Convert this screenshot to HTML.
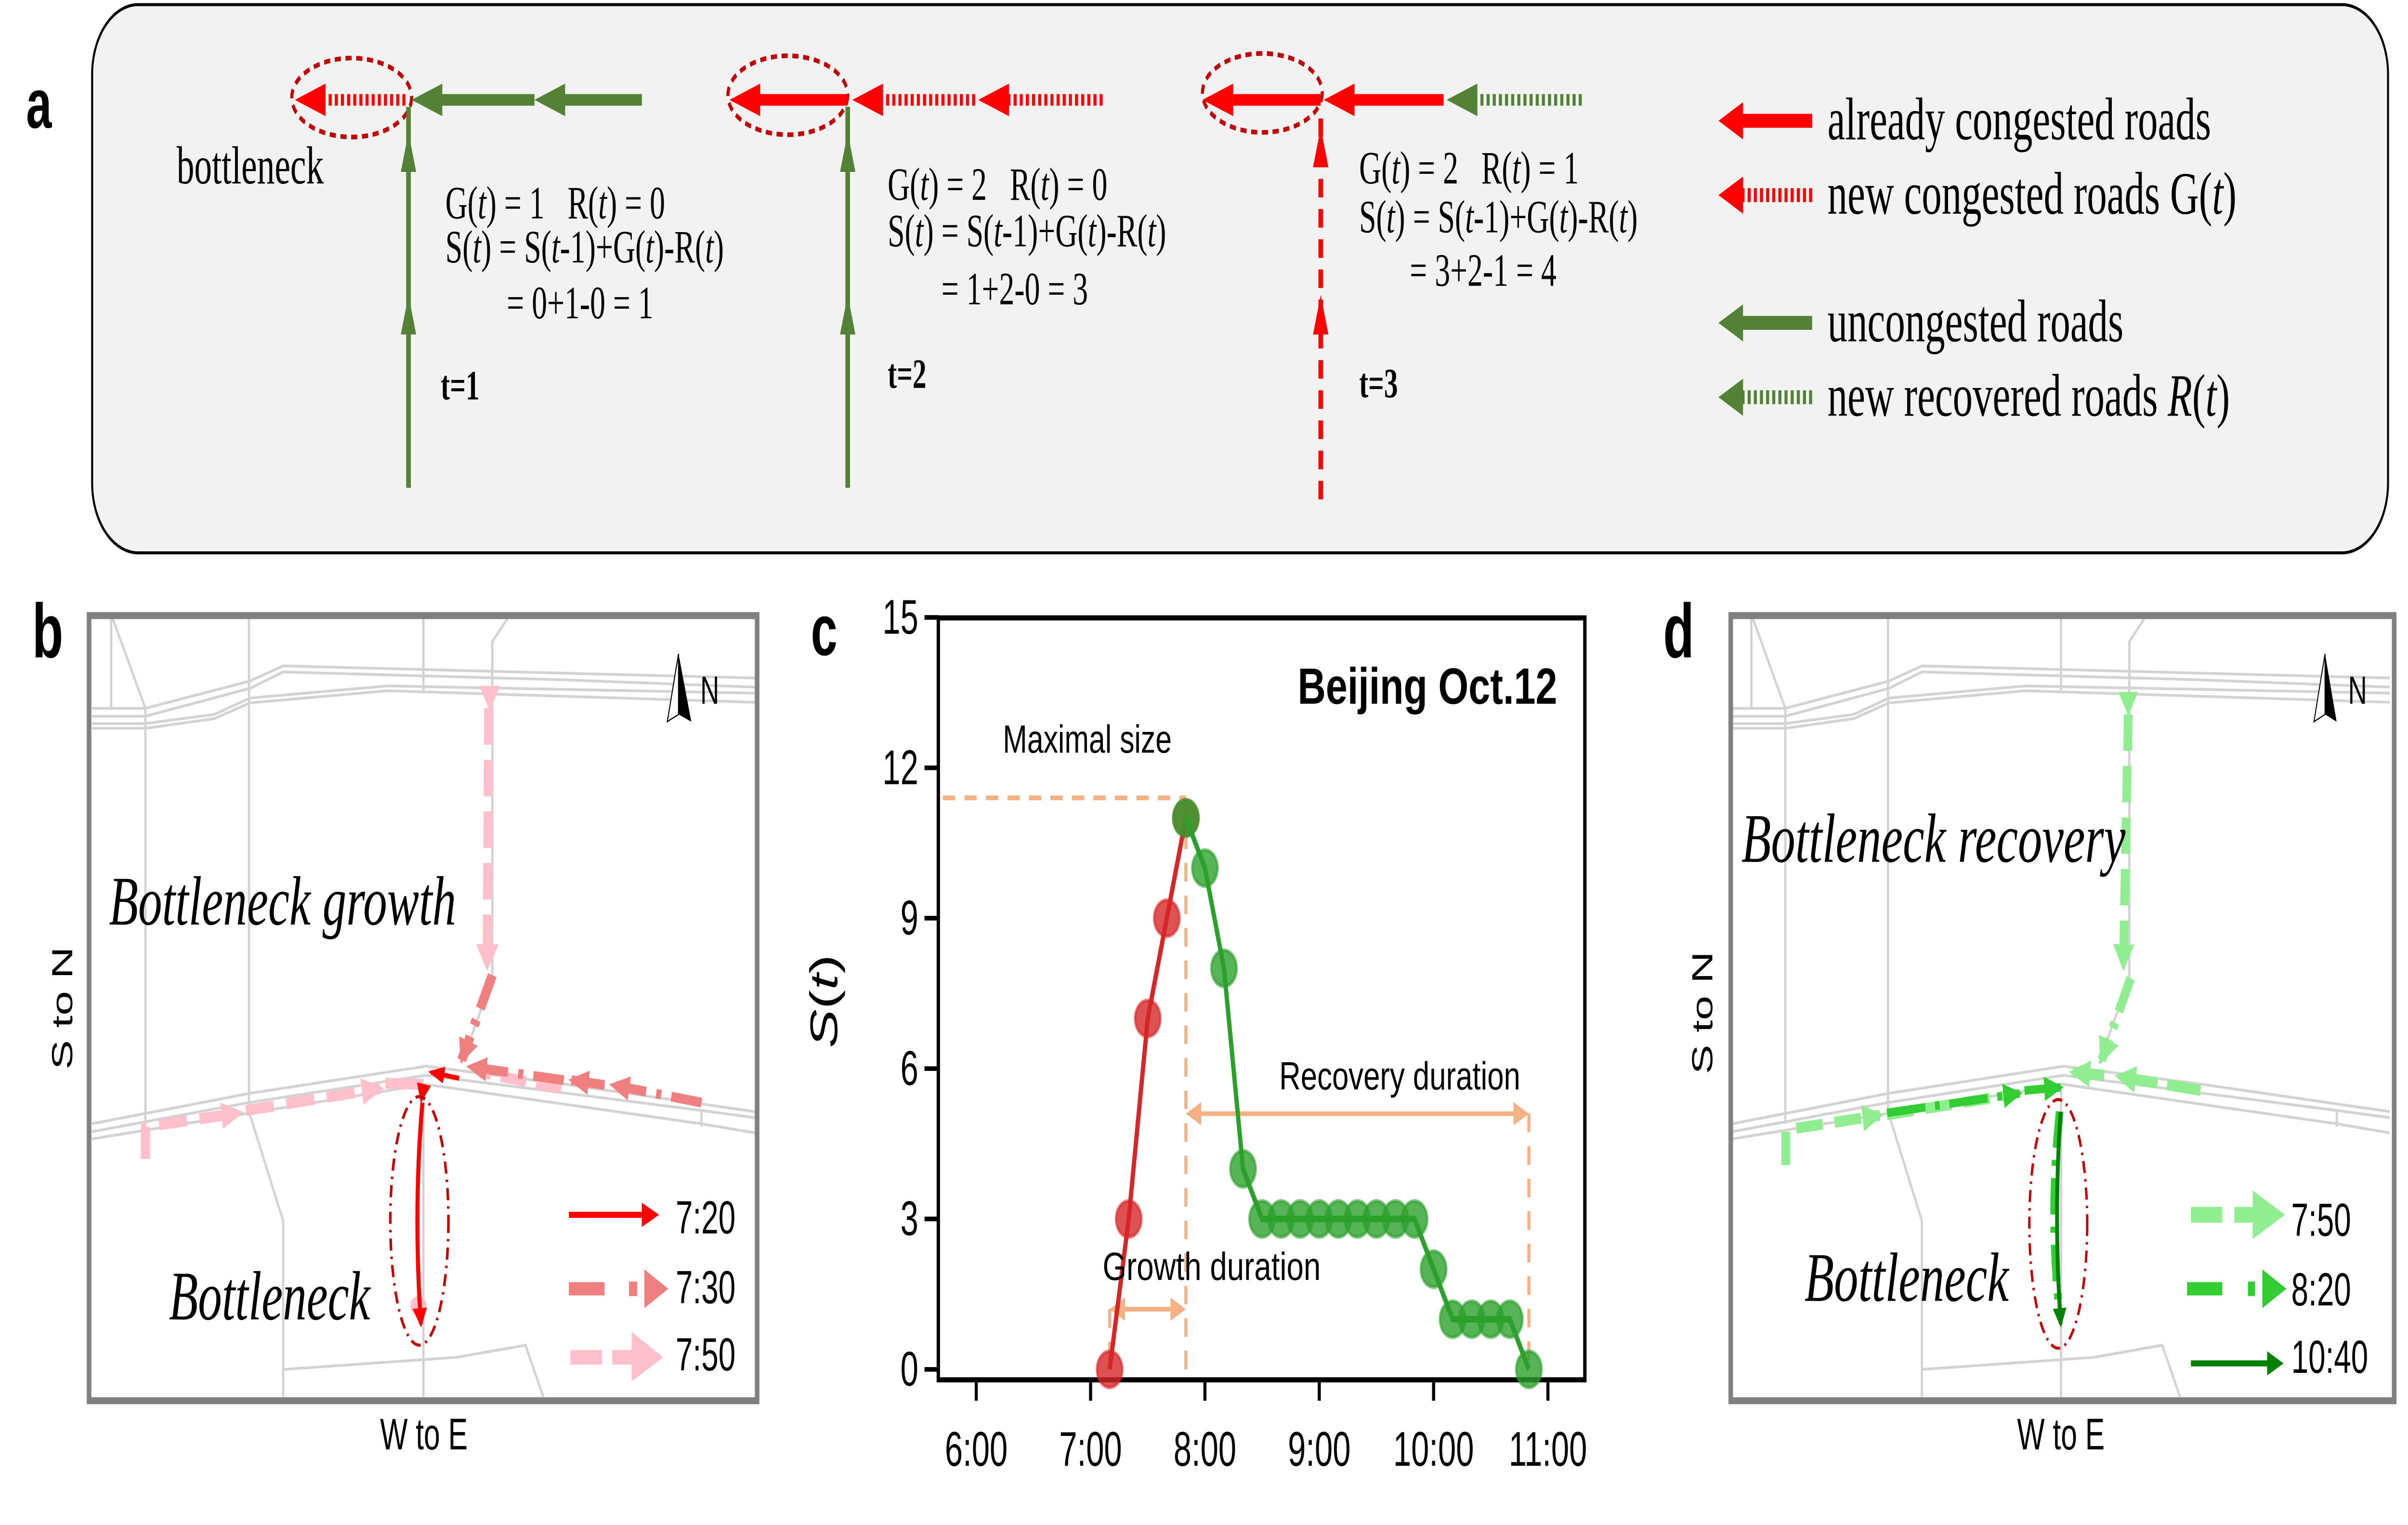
<!DOCTYPE html>
<html><head><meta charset="utf-8"><style>
html,body{margin:0;padding:0;background:#fff;width:100%;height:100%;overflow:hidden}
svg{display:block;width:100vw;height:100vh}
text{font-family:"Liberation Sans","DejaVu Sans",sans-serif}
.serif{font-family:"Liberation Serif",serif}
</style></head><body>
<svg id="root" viewBox="0 0 1568 656.5" preserveAspectRatio="none">
<defs>
<marker id="mPink" markerUnits="userSpaceOnUse" markerWidth="60" markerHeight="60" refX="36" refY="22" orient="auto"><path d="M0,0 L44,22 L0,44 z" fill="#ffc0cb"/></marker>
<marker id="mSalmon" markerUnits="userSpaceOnUse" markerWidth="60" markerHeight="60" refX="34" refY="20" orient="auto"><path d="M0,0 L40,20 L0,40 z" fill="#f08080"/></marker>
<marker id="mRed" markerUnits="userSpaceOnUse" markerWidth="50" markerHeight="50" refX="26" refY="14" orient="auto"><path d="M0,0 L32,14 L0,28 z" fill="#ff0000"/></marker>
<marker id="mLg" markerUnits="userSpaceOnUse" markerWidth="60" markerHeight="60" refX="36" refY="22" orient="auto"><path d="M0,0 L44,22 L0,44 z" fill="#90ee90"/></marker>
<marker id="mMg" markerUnits="userSpaceOnUse" markerWidth="60" markerHeight="60" refX="34" refY="20" orient="auto"><path d="M0,0 L40,20 L0,40 z" fill="#32cd32"/></marker>
<marker id="mDg" markerUnits="userSpaceOnUse" markerWidth="50" markerHeight="50" refX="26" refY="14" orient="auto"><path d="M0,0 L32,14 L0,28 z" fill="#008000"/></marker>
<g id="roads" fill="none" stroke="#d3d3d3" stroke-width="4.5">
<polyline points="180,215 285,215 490,170 555,145 1105,157 1480,165"/>
<polyline points="180,228 285,228 490,182 555,155 1105,168 1480,180"/>
<polyline points="180,240 285,240 420,225 490,198 760,178 1480,190"/>
<polyline points="180,248 285,248 420,232 490,206 760,186 1480,205"/>
<polyline points="218,60 218,215"/><polyline points="218,60 285,215"/>
<polyline points="285,215 285,900"/><polyline points="488,60 488,880"/>
<polyline points="830,60 830,185"/><polyline points="1000,60 965,105 965,660 905,800"/>
<polyline points="180,900 488,850 835,805 1110,835 1480,880"/>
<polyline points="180,913 488,865 835,820 1375,878 1480,890"/>
<polyline points="180,925 835,835 1375,900 1480,915"/>
<polyline points="1375,878 1375,905"/>
<polyline points="488,880 555,1060 555,1350"/>
<polyline points="555,1305 895,1285 1030,1265 1065,1350"/>
<polyline points="830,835 830,1350"/>
</g>
</defs>

<!-- PANEL A -->
<g>
<rect x="60" y="2" width="1495" height="236" rx="30" ry="30" fill="#f2f2f2" stroke="#000" stroke-width="1.3"/>
<text x="17" y="55" font-size="30" font-weight="bold">a</text>
<g>
<ellipse cx="229" cy="42" rx="39" ry="17" fill="none" stroke="#c00000" stroke-width="2" stroke-dasharray="4,3"/>
<line x1="210" y1="43" x2="266" y2="43" stroke="#ff0000" stroke-width="5" stroke-dasharray="2,2"/>
<polygon points="192,43 212,36 212,50" fill="#ff0000"/>
<line x1="286" y1="43" x2="348" y2="43" stroke="#538135" stroke-width="5"/>
<polygon points="268,43 288,36 288,50" fill="#538135"/>
<line x1="366" y1="43" x2="418" y2="43" stroke="#538135" stroke-width="5"/>
<polygon points="348,43 368,36 368,50" fill="#538135"/>
<line x1="266" y1="210" x2="266" y2="46" stroke="#538135" stroke-width="3"/>
<polygon points="266,57 261,74 271,74" fill="#538135"/>
<polygon points="266,127 261,144 271,144" fill="#538135"/>
<text class="serif" x="115" y="79" font-size="23">bottleneck</text>
<text class="serif" x="290" y="94" font-size="20">G(<tspan font-style="italic">t</tspan>) = 1 &#160;&#160;R(<tspan font-style="italic">t</tspan>) = 0</text>
<text class="serif" x="290" y="113" font-size="20">S(<tspan font-style="italic">t</tspan>) = S(<tspan font-style="italic">t</tspan>-1)+G(<tspan font-style="italic">t</tspan>)-R(<tspan font-style="italic">t</tspan>)</text>
<text class="serif" x="330" y="137" font-size="20">= 0+1-0 = 1</text>
<text class="serif" x="287" y="172" font-size="18" font-weight="bold">t=1</text>
</g>
<g>
<ellipse cx="513" cy="41" rx="39" ry="17" fill="none" stroke="#c00000" stroke-width="2" stroke-dasharray="4,3"/>
<line x1="494" y1="43" x2="552" y2="43" stroke="#ff0000" stroke-width="5"/>
<polygon points="475,43 495,36 495,50" fill="#ff0000"/>
<line x1="573" y1="43" x2="635" y2="43" stroke="#ff0000" stroke-width="5" stroke-dasharray="2,2"/>
<polygon points="555,43 575,36 575,50" fill="#ff0000"/>
<line x1="656" y1="43" x2="720" y2="43" stroke="#ff0000" stroke-width="5" stroke-dasharray="2,2"/>
<polygon points="637,43 657,36 657,50" fill="#ff0000"/>
<line x1="552" y1="210" x2="552" y2="46" stroke="#538135" stroke-width="3"/>
<polygon points="552,57 547,74 557,74" fill="#538135"/>
<polygon points="552,127 547,144 557,144" fill="#538135"/>
<text class="serif" x="578" y="86" font-size="20">G(<tspan font-style="italic">t</tspan>) = 2 &#160;&#160;R(<tspan font-style="italic">t</tspan>) = 0</text>
<text class="serif" x="578" y="106" font-size="20">S(<tspan font-style="italic">t</tspan>) = S(<tspan font-style="italic">t</tspan>-1)+G(<tspan font-style="italic">t</tspan>)-R(<tspan font-style="italic">t</tspan>)</text>
<text class="serif" x="613" y="131" font-size="20">= 1+2-0 = 3</text>
<text class="serif" x="578" y="167" font-size="18" font-weight="bold">t=2</text>
</g>
<g>
<ellipse cx="822" cy="40" rx="39" ry="17" fill="none" stroke="#c00000" stroke-width="2" stroke-dasharray="4,3"/>
<line x1="803" y1="43" x2="860" y2="43" stroke="#ff0000" stroke-width="5"/>
<polygon points="783,43 803,36 803,50" fill="#ff0000"/>
<line x1="881" y1="43" x2="940" y2="43" stroke="#ff0000" stroke-width="5"/>
<polygon points="862,43 882,36 882,50" fill="#ff0000"/>
<line x1="960" y1="43" x2="1030" y2="43" stroke="#538135" stroke-width="5" stroke-dasharray="2,2"/>
<polygon points="942,43 962,36 962,50" fill="#538135"/>
<line x1="860" y1="215" x2="860" y2="48" stroke="#ff0000" stroke-width="3" stroke-dasharray="8,5"/>
<polygon points="860,55 855,72 865,72" fill="#ff0000"/>
<polygon points="860,127 855,144 865,144" fill="#ff0000"/>
<text class="serif" x="885" y="79" font-size="20">G(<tspan font-style="italic">t</tspan>) = 2 &#160;&#160;R(<tspan font-style="italic">t</tspan>) = 1</text>
<text class="serif" x="885" y="100" font-size="20">S(<tspan font-style="italic">t</tspan>) = S(<tspan font-style="italic">t</tspan>-1)+G(<tspan font-style="italic">t</tspan>)-R(<tspan font-style="italic">t</tspan>)</text>
<text class="serif" x="918" y="123" font-size="20">= 3+2-1 = 4</text>
<text class="serif" x="885" y="171" font-size="18" font-weight="bold">t=3</text>
</g>
<g>
<line x1="1134" y1="52" x2="1180" y2="52" stroke="#ff0000" stroke-width="6"/><polygon points="1119,52 1135,44 1135,60" fill="#ff0000"/>
<text class="serif" x="1190" y="60" font-size="26">already congested roads</text>
<line x1="1134" y1="84" x2="1180" y2="84" stroke="#ff0000" stroke-width="6" stroke-dasharray="2,2"/><polygon points="1119,84 1135,76 1135,92" fill="#ff0000"/>
<text class="serif" x="1190" y="92" font-size="26">new congested roads G(<tspan font-style="italic">t</tspan>)</text>
<line x1="1134" y1="139" x2="1180" y2="139" stroke="#538135" stroke-width="6"/><polygon points="1119,139 1135,131 1135,147" fill="#538135"/>
<text class="serif" x="1190" y="147" font-size="26">uncongested roads</text>
<line x1="1134" y1="171" x2="1180" y2="171" stroke="#538135" stroke-width="6" stroke-dasharray="2,2"/><polygon points="1119,171 1135,163 1135,179" fill="#538135"/>
<text class="serif" x="1190" y="179" font-size="26">new recovered roads <tspan font-style="italic">R</tspan>(<tspan font-style="italic">t</tspan>)</text>
</g>
</g>

<!-- PANEL B -->
<g>
<text x="21" y="283" font-size="33" font-weight="bold">b</text>
<g transform="translate(0,248.8) scale(0.3322,0.2611)">
<use href="#roads"/>
<path d="M1100,842 L940,815" fill="none" stroke="#ffc0cb" stroke-width="18" stroke-dasharray="50,20"/>
<path d="M958,215 L955,640" fill="none" stroke="#ffc0cb" stroke-width="18" stroke-dasharray="60,25" marker-end="url(#mPink)"/>
<polygon points="940,178 980,178 960,220" fill="#ffc0cb"/>
<path d="M965,655 L905,795" fill="none" stroke="#f08080" stroke-width="18" stroke-dasharray="60,20,10,20" marker-end="url(#mSalmon)"/>
<path d="M1375,865 L1200,836" fill="none" stroke="#f08080" stroke-width="16" stroke-dasharray="60,20,10,20" marker-end="url(#mSalmon)"/>
<path d="M1185,836 L1120,828" fill="none" stroke="#f08080" stroke-width="16" marker-end="url(#mSalmon)"/>
<path d="M1105,828 L920,806" fill="none" stroke="#f08080" stroke-width="16" stroke-dasharray="60,20,10,20" marker-end="url(#mSalmon)"/>
<path d="M285,958 L285,905 L470,882" fill="none" stroke="#ffc0cb" stroke-width="18" stroke-dasharray="55,25" stroke-linejoin="round" marker-end="url(#mPink)"/>
<path d="M482,878 L745,842" fill="none" stroke="#ffc0cb" stroke-width="18" stroke-dasharray="55,25" marker-end="url(#mPink)"/>
<path d="M755,833 L830,835" fill="none" stroke="#ffc0cb" stroke-width="18"/>
<circle cx="820" cy="1200" r="16" fill="#ffc0cb"/>
<path d="M900,825 L845,815" fill="none" stroke="#ff0000" stroke-width="8" marker-end="url(#mRed)"/>
<path d="M828,850 L826,860" fill="none" stroke="#ff0000" stroke-width="8" marker-end="url(#mRed)"/>
<path d="M828,865 Q810,1040 825,1230" fill="none" stroke="#ff0000" stroke-width="8" marker-end="url(#mRed)"/>
<ellipse cx="822" cy="1060" rx="57" ry="205" fill="none" stroke="#c00000" stroke-width="5" stroke-dasharray="20,10,4,10"/>
<polygon points="1330,125 1308,237 1330,225" fill="#fff" stroke="#000" stroke-width="2"/>
<polygon points="1330,125 1355,237 1330,225" fill="#000"/>
<line x1="1115" y1="1050" x2="1260" y2="1050" stroke="#ff0000" stroke-width="10"/>
<polygon points="1258,1030 1292,1050 1258,1070" fill="#ff0000"/>
<line x1="1115" y1="1172" x2="1185" y2="1172" stroke="#f08080" stroke-width="22"/>
<rect x="1233" y="1160" width="16" height="24" fill="#f08080"/>
<polygon points="1263,1140 1310,1172 1263,1204" fill="#f08080"/>
<line x1="1118" y1="1285" x2="1180" y2="1285" stroke="#ffc0cb" stroke-width="24"/>
<line x1="1200" y1="1285" x2="1242" y2="1285" stroke="#ffc0cb" stroke-width="24"/>
<polygon points="1238,1243 1300,1285 1238,1325" fill="#ffc0cb"/>
</g>
<rect x="58" y="265" width="435" height="338" fill="none" stroke="#808080" stroke-width="3"/>
<text x="456" y="303" font-size="17">N</text>
<text class="serif" x="71" y="398" font-size="30" font-style="italic" textLength="226" lengthAdjust="spacingAndGlyphs">Bottleneck growth</text>
<text class="serif" x="110" y="568" font-size="30" font-style="italic" textLength="131" lengthAdjust="spacingAndGlyphs">Bottleneck</text>
<text x="440" y="531" font-size="20">7:20</text>
<text x="440" y="561" font-size="20">7:30</text>
<text x="440" y="590" font-size="20">7:50</text>
<text x="276" y="624" font-size="19" text-anchor="middle">W to E</text>
<text transform="translate(47,434) rotate(-90)" font-size="19" text-anchor="middle">S to N</text>
</g>

<!-- PANEL C -->
<g>
<text x="528" y="282" font-size="31" font-weight="bold">c</text>
<g id="chart-c"></g>
<text x="1014" y="303" font-size="22" font-weight="bold" text-anchor="end" textLength="169" lengthAdjust="spacingAndGlyphs">Beijing Oct.12</text>
<text x="653" y="324" font-size="17" textLength="110" lengthAdjust="spacingAndGlyphs">Maximal size</text>
<text x="833" y="469" font-size="17" textLength="157" lengthAdjust="spacingAndGlyphs">Recovery duration</text>
<text x="718" y="551" font-size="17" textLength="142" lengthAdjust="spacingAndGlyphs">Growth duration</text>
<text transform="translate(545,431) rotate(-90)" font-family="DejaVu Sans" font-size="25" text-anchor="middle"><tspan font-style="italic">S</tspan>(<tspan font-style="italic">t</tspan>)</text>
</g>

<!-- PANEL D -->
<g>
<text x="1083" y="283" font-size="33" font-weight="bold">d</text>
<g transform="translate(1068.6,248.8) scale(0.3295,0.2611)"><use href="#roads"/></g>
<g transform="translate(1078,248.8) scale(0.3141,0.2611)">
<path d="M980,225 L970,640" fill="none" stroke="#90ee90" stroke-width="18" stroke-dasharray="60,25" marker-end="url(#mLg)"/>
<polygon points="960,188 1000,188 980,228" fill="#90ee90"/>
<path d="M985,660 L925,795" fill="none" stroke="#90ee90" stroke-width="18" stroke-dasharray="60,20,10,20" marker-end="url(#mLg)"/>
<path d="M1130,845 L960,822" fill="none" stroke="#90ee90" stroke-width="18" stroke-dasharray="70,20" marker-end="url(#mLg)"/>
<path d="M930,820 L865,815" fill="none" stroke="#90ee90" stroke-width="18" marker-end="url(#mLg)"/>
<path d="M270,968 L270,910 L465,886" fill="none" stroke="#90ee90" stroke-width="18" stroke-dasharray="55,25" stroke-linejoin="round" marker-end="url(#mLg)"/>
<path d="M480,885 L740,852" fill="none" stroke="#90ee90" stroke-width="18" stroke-dasharray="55,25"/>
<path d="M480,882 L755,850" fill="none" stroke="#32cd32" stroke-width="14" stroke-dasharray="80,20,10,20" marker-end="url(#mMg)"/>
<path d="M765,845 L840,840" fill="none" stroke="#32cd32" stroke-width="14" marker-end="url(#mMg)"/>
<path d="M838,880 Q815,1050 838,1215" fill="none" stroke="#32cd32" stroke-width="16" stroke-dasharray="60,20,10,20"/>
<path d="M840,880 Q825,1050 840,1230" fill="none" stroke="#008000" stroke-width="8" marker-end="url(#mDg)"/>
<ellipse cx="835" cy="1065" rx="60" ry="205" fill="none" stroke="#c00000" stroke-width="5" stroke-dasharray="20,10,4,10"/>
<polygon points="1388,125 1365,237 1388,225" fill="#fff" stroke="#000" stroke-width="2"/>
<polygon points="1388,125 1412,237 1388,225" fill="#000"/>
<line x1="1110" y1="1050" x2="1175" y2="1050" stroke="#90ee90" stroke-width="26"/>
<line x1="1200" y1="1050" x2="1242" y2="1050" stroke="#90ee90" stroke-width="26"/>
<polygon points="1238,1010 1305,1050 1238,1090" fill="#90ee90"/>
<line x1="1102" y1="1172" x2="1175" y2="1172" stroke="#32cd32" stroke-width="22"/>
<rect x="1228" y="1160" width="15" height="24" fill="#32cd32"/>
<polygon points="1258,1140 1308,1172 1258,1204" fill="#32cd32"/>
<line x1="1110" y1="1295" x2="1272" y2="1295" stroke="#008000" stroke-width="10"/>
<polygon points="1268,1275 1302,1295 1268,1315" fill="#008000"/>
</g>
<rect x="1127" y="265" width="432" height="338" fill="none" stroke="#808080" stroke-width="3"/>
<text x="1529" y="303" font-size="17">N</text>
<text class="serif" x="1134" y="371" font-size="30" font-style="italic" textLength="250" lengthAdjust="spacingAndGlyphs">Bottleneck recovery</text>
<text class="serif" x="1175" y="560" font-size="30" font-style="italic" textLength="133" lengthAdjust="spacingAndGlyphs">Bottleneck</text>
<text x="1492" y="532" font-size="20">7:50</text>
<text x="1492" y="562" font-size="20">8:20</text>
<text x="1492" y="591" font-size="20">10:40</text>
<text x="1342" y="624" font-size="19" text-anchor="middle">W to E</text>
<text transform="translate(1115,436) rotate(-90)" font-size="19" text-anchor="middle">S to N</text>
</g>
</svg>
<script>
const redTimes = ["7:10","7:20","7:30","7:40","7:50"];
const redValues = [0,3,7,9,11];
const greenTimes = ["7:50","8:00","8:10","8:20","8:30","8:40","8:50","9:00","9:10","9:20","9:30","9:40","9:50","10:00","10:10","10:20","10:30","10:40","10:50"];
const greenValues = [11,10,8,4,3,3,3,3,3,3,3,3,3,2,1,1,1,1,0];
const yTicks = [0,3,6,9,12,15];
const xTickLabels = ["6:00","7:00","8:00","9:00","10:00","11:00"];
const maxSize = 11.4;
const growthStart = "7:10", peakTime = "7:50", recoveryEnd = "10:50";
const recoveryArrowValue = 5.1, growthArrowValue = 1.2;

const NS = "http://www.w3.org/2000/svg";
const g = document.getElementById("chart-c");
const X0 = 611, X1 = 1032, Y0 = 266, Y1 = 594;
function toMin(s){const p=s.split(":");return (+p[0])*60+(+p[1]);}
function xScale(s){return 635.7 + (toMin(s)-360)*74.45/60;}
function yScale(v){return 589.5 - v*21.58;}
function el(tag, attrs, parent){const e=document.createElementNS(NS,tag);for(const k in attrs)e.setAttribute(k,attrs[k]);(parent||g).appendChild(e);return e;}
const OR = "#f4b183";

let e;
e = el("rect",{x:X0,y:Y0,width:X1-X0,height:Y1-Y0,fill:"none",stroke:"#000","stroke-width":2.2});


yTicks.forEach(v=>{
  const y=yScale(v);
  const t=el("line",{x1:X0-9,y1:y,x2:X0,y2:y,stroke:"#000","stroke-width":2});
  
  
  const l=el("text",{x:X0-13,y:y+7,"font-size":21,"text-anchor":"end"});
  l.textContent=String(v);
  
  
});
xTickLabels.forEach(s=>{
  const x=xScale(s);
  const t=el("line",{x1:x,y1:Y1,x2:x,y2:Y1+9,stroke:"#000","stroke-width":2});
  
  
  const l=el("text",{x:x,y:631,"font-size":21,"text-anchor":"middle"});
  l.textContent=s;
  
  
});
e = el("line",{x1:X0+3,y1:yScale(maxSize),x2:xScale(peakTime),y2:yScale(maxSize),stroke:OR,"stroke-width":2,"stroke-dasharray":"8,6"});


e = el("line",{x1:xScale(peakTime),y1:yScale(maxSize),x2:xScale(peakTime),y2:yScale(0),stroke:OR,"stroke-width":2,"stroke-dasharray":"8,6"});


e = el("line",{x1:xScale(recoveryEnd),y1:yScale(recoveryArrowValue),x2:xScale(recoveryEnd),y2:yScale(0),stroke:OR,"stroke-width":2,"stroke-dasharray":"8,6"});


e = el("line",{x1:xScale(growthStart),y1:yScale(growthArrowValue),x2:xScale(growthStart),y2:yScale(0),stroke:OR,"stroke-width":2,"stroke-dasharray":"8,6"});


function dblArrow(xa,xb,y,name){
  const a=el("line",{x1:xa+4,y1:y,x2:xb-4,y2:y,stroke:OR,"stroke-width":2});
  
  
  const h1=el("polygon",{points:`${xa},${y} ${xa+10},${y-5} ${xa+10},${y+5}`,fill:OR});
  
  
  const h2=el("polygon",{points:`${xb},${y} ${xb-10},${y-5} ${xb-10},${y+5}`,fill:OR});
  
  
}
dblArrow(xScale(peakTime),xScale(recoveryEnd),yScale(recoveryArrowValue),'recovery-duration-arrow');
dblArrow(xScale(growthStart),xScale(peakTime),yScale(growthArrowValue),'growth-duration-arrow');
function series(times,vals,color,name){
  const pts=times.map((t,i)=>xScale(t)+","+yScale(vals[i])).join(" ");
  const ln=el("polyline",{points:pts,fill:"none",stroke:color,"stroke-width":2.8,"stroke-linejoin":"round"});
  
  
  times.forEach((t,i)=>{
    const c=el("ellipse",{cx:xScale(t),cy:yScale(vals[i]),rx:8.3,ry:7.8,fill:color,"fill-opacity":0.8,stroke:color,"stroke-opacity":0.6,"stroke-width":1.5});
    
    
  });
}
series(redTimes,redValues,"#d62728","growth-series");
series(greenTimes,greenValues,"#2ca02c","recovery-series");
</script>
</body></html>
